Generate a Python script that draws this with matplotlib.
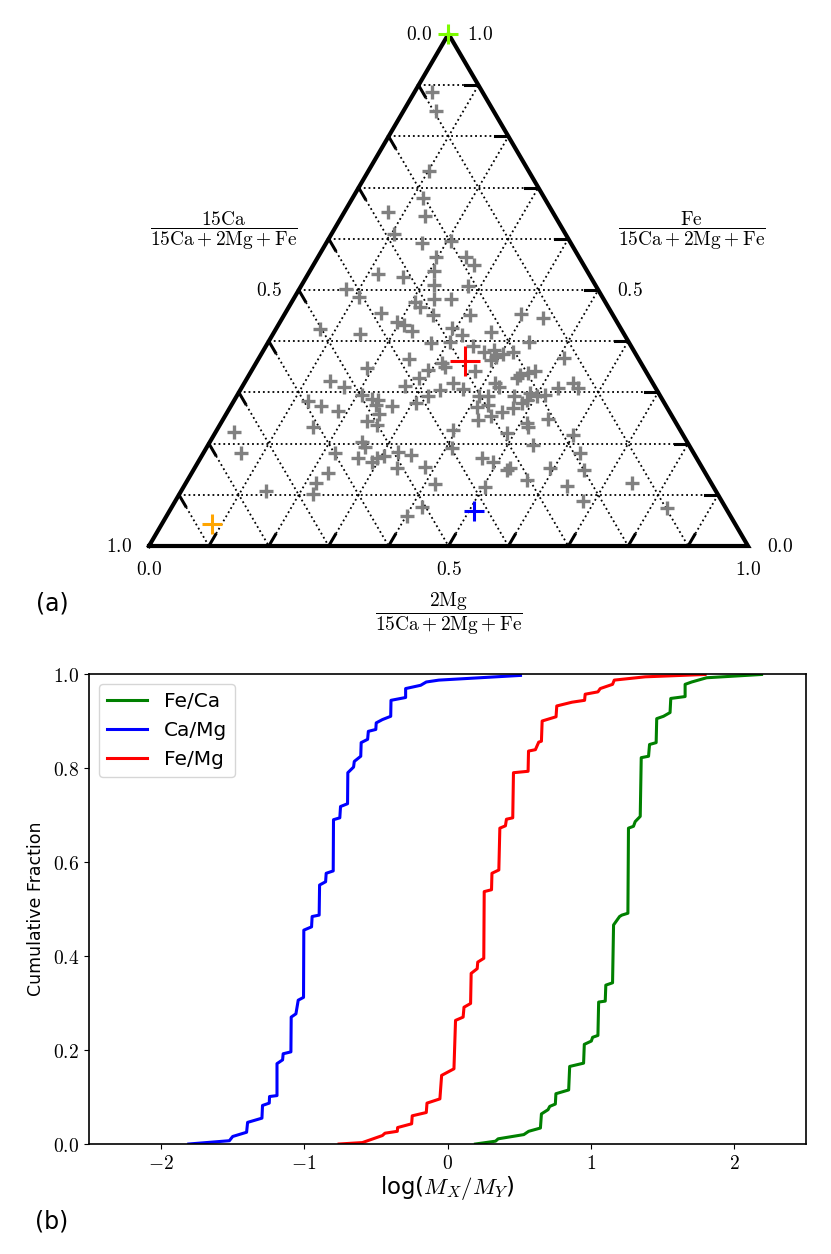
import numpy as np
import matplotlib
matplotlib.use('Agg')
import matplotlib.pyplot as plt
from matplotlib.ticker import FuncFormatter

plt.rcParams['mathtext.fontset'] = 'cm'
plt.rcParams['font.family'] = ['DejaVu Sans']

# ternary data: fractions of 2Mg and Fe (15Ca is the rest)
mg_frac = [0.029, 0.054, 0.101, 0.117, 0.072, 0.139, 0.105, 0.161, 0.206, 0.196,
           0.246, 0.268, 0.116, 0.162, 0.208, 0.078, 0.108, 0.221, 0.279, 0.234,
           0.264, 0.206, 0.219, 0.159, 0.195, 0.209, 0.249, 0.074, 0.145, 0.230,
           0.273, 0.252, 0.191, 0.310, 0.320, 0.294, 0.140, 0.171, 0.286, 0.271,
           0.333, 0.124, 0.151, 0.183, 0.208, 0.228, 0.240, 0.241, 0.269, 0.307,
           0.320, 0.255, 0.241, 0.262, 0.158, 0.031, 0.253, 0.264, 0.063, 0.220,
           0.264, 0.289, 0.295, 0.305, 0.324, 0.348, 0.337, 0.383, 0.228, 0.216,
           0.417, 0.142, 0.222, 0.417, 0.401, 0.310, 0.395, 0.436, 0.293, 0.317,
           0.363, 0.303, 0.346, 0.435, 0.369, 0.384, 0.390, 0.395, 0.404, 0.419,
           0.510, 0.373, 0.473, 0.465, 0.450, 0.452, 0.349, 0.371, 0.419, 0.429,
           0.549, 0.562, 0.529, 0.405, 0.420, 0.463, 0.483, 0.488, 0.487, 0.501,
           0.514, 0.412, 0.429, 0.459, 0.474, 0.427, 0.444, 0.542, 0.511, 0.517,
           0.394, 0.487, 0.600, 0.410, 0.543, 0.629, 0.470, 0.492, 0.527, 0.524,
           0.593, 0.653, 0.567, 0.504, 0.639, 0.745, 0.680, 0.827]
fe_frac = [0.886, 0.850, 0.733, 0.680, 0.653, 0.645, 0.609, 0.591, 0.596, 0.565,
           0.565, 0.549, 0.531, 0.525, 0.537, 0.501, 0.486, 0.510, 0.508, 0.482,
           0.482, 0.477, 0.467, 0.456, 0.438, 0.432, 0.451, 0.423, 0.415, 0.419,
           0.396, 0.365, 0.347, 0.358, 0.349, 0.344, 0.323, 0.310, 0.328, 0.313,
           0.305, 0.283, 0.273, 0.264, 0.295, 0.288, 0.285, 0.275, 0.273, 0.279,
           0.292, 0.258, 0.245, 0.236, 0.232, 0.223, 0.204, 0.194, 0.181, 0.181,
           0.171, 0.165, 0.171, 0.176, 0.184, 0.178, 0.153, 0.155, 0.143, 0.124,
           0.121, 0.108, 0.102, 0.076, 0.059, 0.451, 0.453, 0.445, 0.425, 0.412,
           0.417, 0.399, 0.391, 0.399, 0.379, 0.383, 0.363, 0.370, 0.375, 0.379,
           0.367, 0.342, 0.342, 0.337, 0.328, 0.334, 0.318, 0.307, 0.318, 0.310,
           0.318, 0.309, 0.308, 0.293, 0.292, 0.293, 0.279, 0.285, 0.298, 0.292,
           0.295, 0.271, 0.275, 0.262, 0.269, 0.246, 0.254, 0.249, 0.240, 0.233,
           0.227, 0.220, 0.217, 0.191, 0.197, 0.181, 0.171, 0.165, 0.152, 0.148,
           0.152, 0.148, 0.128, 0.115, 0.117, 0.124, 0.088, 0.074]

# reference compositions (mg, fe, colour, size)
ref_mg = [0.0, 0.347, 0.509, 0.084]
ref_fe = [1.0, 0.361, 0.068, 0.043]
ref_col = ['lawngreen', 'red', 'blue', 'orange']
ref_ms = [15, 22, 15, 15]

# cumulative curves (log ratio, cumulative fraction)
feca_x = [0.195, 0.335, 0.353, 0.532, 0.566, 0.648, 0.655, 0.701, 0.713, 0.752,
          0.756, 0.845, 0.852, 0.949, 0.954, 1.003, 1.012, 1.049, 1.054, 1.100,
          1.104, 1.151, 1.158, 1.200, 1.216, 1.258, 1.262, 1.297, 1.309, 1.344,
          1.351, 1.402, 1.409, 1.455, 1.459, 1.506, 1.552, 1.557, 1.657, 1.657,
          1.703, 1.807, 2.19]
feca_y = [0.000, 0.006, 0.011, 0.020, 0.027, 0.034, 0.064, 0.073, 0.080, 0.085,
          0.107, 0.115, 0.165, 0.172, 0.212, 0.219, 0.227, 0.231, 0.302, 0.304,
          0.338, 0.343, 0.466, 0.484, 0.487, 0.491, 0.672, 0.676, 0.686, 0.697,
          0.822, 0.825, 0.850, 0.854, 0.905, 0.910, 0.918, 0.948, 0.952, 0.978,
          0.983, 0.992, 0.999]
camg_x = [-1.804, -1.521, -1.498, -1.401, -1.394, -1.294, -1.290, -1.243, -1.241, -1.189,
          -1.189, -1.150, -1.146, -1.092, -1.090, -1.057, -1.041, -1.004, -1.002, -0.948,
          -0.944, -0.895, -0.892, -0.850, -0.846, -0.797, -0.795, -0.751, -0.746, -0.697,
          -0.695, -0.655, -0.650, -0.605, -0.602, -0.557, -0.552, -0.500, -0.497, -0.454,
          -0.396, -0.394, -0.292, -0.292, -0.187, -0.148, -0.060, 0.509]
camg_y = [0.000, 0.007, 0.016, 0.025, 0.046, 0.055, 0.082, 0.087, 0.101, 0.103,
          0.171, 0.179, 0.192, 0.196, 0.270, 0.277, 0.306, 0.312, 0.455, 0.462,
          0.484, 0.487, 0.551, 0.558, 0.576, 0.581, 0.690, 0.694, 0.718, 0.724,
          0.790, 0.802, 0.814, 0.825, 0.854, 0.861, 0.878, 0.882, 0.896, 0.903,
          0.910, 0.944, 0.950, 0.969, 0.976, 0.983, 0.987, 0.997]
femg_x = [-0.756, -0.594, -0.454, -0.436, -0.350, -0.348, -0.250, -0.246, -0.148, -0.143,
          -0.053, -0.041, 0.045, 0.056, 0.109, 0.115, 0.161, 0.165, 0.207, 0.211,
          0.253, 0.256, 0.307, 0.310, 0.358, 0.365, 0.404, 0.411, 0.455, 0.460,
          0.562, 0.565, 0.613, 0.636, 0.655, 0.660, 0.757, 0.762, 0.868, 0.956,
          0.960, 1.049, 1.065, 1.151, 1.163, 1.379, 1.796]
femg_y = [0.000, 0.003, 0.018, 0.023, 0.027, 0.035, 0.043, 0.060, 0.067, 0.087,
          0.096, 0.146, 0.160, 0.263, 0.270, 0.291, 0.299, 0.363, 0.373, 0.387,
          0.395, 0.537, 0.541, 0.576, 0.583, 0.672, 0.677, 0.691, 0.694, 0.790,
          0.793, 0.836, 0.839, 0.855, 0.857, 0.900, 0.909, 0.932, 0.940, 0.944,
          0.957, 0.962, 0.969, 0.978, 0.987, 0.994, 0.999]

ticks = [i / 10 for i in range(1, 10)]
end_labels = ['0.0', '0.5', '1.0']


def cart(mg, fe):
    # ternary -> plot coords (x along the base, y = Fe fraction)
    mg = np.asarray(mg, dtype=float)
    fe = np.asarray(fe, dtype=float)
    return mg + fe / 2, fe


fig = plt.figure(figsize=(8.31, 12.54), dpi=100)

# ---- (a) ternary ----
ax = fig.add_axes([100 / 831, 1 - 640 / 1254, 700 / 831, 630 / 1254])
ax.set_xlim((100 - 149) / 599, (800 - 149) / 599)
ax.set_ylim((546 - 640) / 512, (546 - 10) / 512)
ax.axis('off')

# grid lines
for t in ticks:
    # constant Fe
    x, y = cart([0, 1 - t], [t, t])
    ax.plot(x, y, ':', color='k', lw=1.3, zorder=1)
    # constant Mg
    x, y = cart([t, t], [0, 1 - t])
    ax.plot(x, y, ':', color='k', lw=1.3, zorder=1)
    # constant Ca
    x, y = cart([0, 1 - t], [1 - t, 0])
    ax.plot(x, y, ':', color='k', lw=1.3, zorder=1)

# outline
x, y = cart([0, 1, 0, 0], [0, 0, 1, 0])
ax.plot(x, y, color='k', lw=3, zorder=3, solid_joinstyle='miter')

# ticks
tl = 0.022
for t in ticks:
    x, y = cart([t, t], [0, tl])
    ax.plot(x, y, color='k', lw=2.2, zorder=3)
    x, y = cart([0, tl], [1 - t, 1 - t - tl])
    ax.plot(x, y, color='k', lw=2.2, zorder=3)
    x, y = cart([1 - t, 1 - t - tl], [t, t])
    ax.plot(x, y, color='k', lw=2.2, zorder=3)

# tick labels
for v, s in zip([0.0, 0.5, 1.0], end_labels):
    x, y = cart(0, 1 - v)
    ax.text(x - 0.05, y, '$' + s + '$', fontsize=14, ha='center', va='center')
    x, y = cart(1 - v, v)
    ax.text(x + 0.053, y, '$' + s + '$', fontsize=14, ha='center', va='center')
    x, y = cart(v, 0)
    ax.text(x, y - 0.045, '$' + s + '$', fontsize=14, ha='center', va='center')

ax.text(0.125, 0.615, r'$\dfrac{15\mathrm{Ca}}{15\mathrm{Ca}+2\mathrm{Mg}+\mathrm{Fe}}$',
        fontsize=14, ha='center', va='center')
ax.text(0.906, 0.615, r'$\dfrac{\mathrm{Fe}}{15\mathrm{Ca}+2\mathrm{Mg}+\mathrm{Fe}}$',
        fontsize=14, ha='center', va='center')
ax.text(0.5, -0.133, r'$\dfrac{2\mathrm{Mg}}{15\mathrm{Ca}+2\mathrm{Mg}+\mathrm{Fe}}$',
        fontsize=14, ha='center', va='center')

x, y = cart(mg_frac, fe_frac)
ax.plot(x, y, '+', color='gray', ms=10, mew=2.4, zorder=4)
for m, f, c, s in zip(ref_mg, ref_fe, ref_col, ref_ms):
    x, y = cart(m, f)
    ax.plot(x, y, '+', color=c, ms=s, mew=2.2, zorder=5)

fig.text(52 / 831, 1 - 604 / 1254, '(a)', fontsize=17, ha='center', va='center')

# ---- (b) cumulative fractions ----
ax2 = fig.add_axes([89 / 831, 1 - 1144 / 1254, 717 / 831, 470 / 1254])
ax2.plot(feca_x, feca_y, color='green', lw=2.2, label='Fe/Ca')
ax2.plot(camg_x, camg_y, color='blue', lw=2.2, label='Ca/Mg')
ax2.plot(femg_x, femg_y, color='red', lw=2.2, label='Fe/Mg')
ax2.set_xlim(-2.5, 2.5)
ax2.set_ylim(0, 1)
ax2.set_xticks([-2, -1, 0, 1, 2])
ax2.set_yticks([0, 0.2, 0.4, 0.6, 0.8, 1.0])
ax2.xaxis.set_major_formatter(FuncFormatter(lambda v, p: '$%d$' % v))
ax2.yaxis.set_major_formatter(FuncFormatter(lambda v, p: '$%.1f$' % v))
ax2.tick_params(labelsize=14)
for sp in ax2.spines.values():
    sp.set_linewidth(1.2)
ax2.set_ylabel('Cumulative Fraction', fontsize=12.5, labelpad=6)
ax2.set_xlabel(r'log($M_X/M_Y$)', fontsize=16.5, labelpad=1)
ax2.legend(loc='upper left', fontsize=14.5)

fig.text(52 / 831, 1 - 1222 / 1254, '(b)', fontsize=17, ha='center', va='center')

fig.savefig('out.png', dpi=100)
